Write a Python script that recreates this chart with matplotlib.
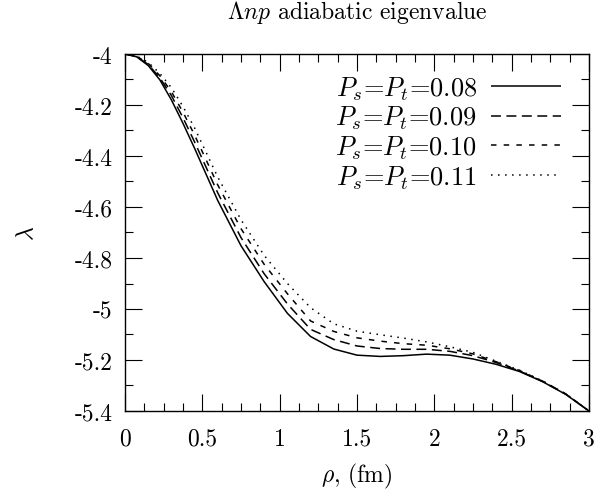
import matplotlib
matplotlib.use("Agg")
import matplotlib.pyplot as plt
from matplotlib.ticker import FixedLocator, FixedFormatter, MultipleLocator

plt.rcParams['font.family'] = ['cmr10', 'DejaVu Serif']
plt.rcParams['mathtext.fontset'] = 'cm'
plt.rcParams['axes.unicode_minus'] = False

rho = [0.0, 0.075, 0.15, 0.225, 0.3, 0.375, 0.45, 0.6, 0.75, 0.9, 1.05, 1.2, 1.35, 1.5,
       1.65, 1.8, 1.95, 2.1, 2.25, 2.4, 2.55, 2.7, 2.85, 3.0]

lam_008 = [-4.000, -4.011, -4.045, -4.101, -4.180, -4.272, -4.370, -4.575, -4.752, -4.893, -5.017,
           -5.108, -5.157, -5.181, -5.186, -5.183, -5.177, -5.181, -5.196, -5.217, -5.245, -5.285,
           -5.335, -5.400]
lam_009 = [-4.000, -4.010, -4.041, -4.093, -4.163, -4.250, -4.345, -4.545, -4.720, -4.862, -4.980,
           -5.080, -5.120, -5.145, -5.155, -5.158, -5.158, -5.166, -5.183, -5.210, -5.243, -5.284,
           -5.334, -5.400]
lam_010 = [-4.000, -4.009, -4.037, -4.085, -4.148, -4.228, -4.318, -4.514, -4.685, -4.825, -4.940,
           -5.047, -5.088, -5.113, -5.126, -5.136, -5.142, -5.156, -5.176, -5.207, -5.241, -5.283,
           -5.333, -5.400]
lam_011 = [-4.000, -4.008, -4.033, -4.076, -4.132, -4.206, -4.290, -4.483, -4.650, -4.790, -4.900,
           -4.995, -5.058, -5.087, -5.101, -5.114, -5.129, -5.148, -5.170, -5.205, -5.240, -5.282,
           -5.333, -5.400]

labels = [r'$P_s$=$P_t$=0.08', r'$P_s$=$P_t$=0.09', r'$P_s$=$P_t$=0.10', r'$P_s$=$P_t$=0.11']

xticks = [0, 0.5, 1, 1.5, 2, 2.5, 3]
xticklabels = ['0', '0.5', '1', '1.5', '2', '2.5', '3']
yticks = [-4.0, -4.2, -4.4, -4.6, -4.8, -5.0, -5.2, -5.4]
yticklabels = ['-4', '-4.2', '-4.4', '-4.6', '-4.8', '-5', '-5.2', '-5.4']

fs = 17
fig = plt.figure(figsize=(5.97, 5.02), dpi=100)
ax = fig.add_axes([125/597, 1 - 412/502, (589 - 125)/597, (412 - 55)/502])

series = [lam_008, lam_009, lam_010, lam_011]
styles = [(0, ()), (0, (6.5, 3.6)), (0, (3.6, 4.7)), (0, (1.0, 3.6))]
for ys, st, lb in zip(series, styles, labels):
    ax.plot(rho, ys, color='black', lw=1.1, linestyle=st, label=lb)

ax.set_xlim(0, 3)
ax.set_ylim(-5.4, -4.0)
ax.xaxis.set_major_locator(FixedLocator(xticks))
ax.xaxis.set_major_formatter(FixedFormatter(xticklabels))
ax.yaxis.set_major_locator(FixedLocator(yticks))
ax.yaxis.set_major_formatter(FixedFormatter(yticklabels))
ax.xaxis.set_minor_locator(MultipleLocator(0.125))
ax.yaxis.set_minor_locator(MultipleLocator(0.1))
ax.tick_params(which='both', direction='in', top=True, right=True, width=0.8, colors='black')
ax.tick_params(which='major', length=12, labelsize=fs)
ax.tick_params(which='minor', length=5.8)
ax.tick_params(axis='y', which='major', pad=9)
ax.tick_params(axis='x', which='major', pad=12)
for s in ax.spines.values():
    s.set_linewidth(1.0)

ax.set_title(r'$\Lambda np$ adiabatic eigenvalue', fontsize=fs, pad=26)
ax.set_xlabel(r'$\rho$, (fm)', fontsize=fs, labelpad=8)
ax.set_ylabel(r'$\lambda$', fontsize=fs, labelpad=26)

leg = ax.legend(loc='upper right', frameon=False, fontsize=19, markerfirst=False,
                handlelength=2.65, handletextpad=0.55, labelspacing=0.08,
                borderaxespad=0.3, bbox_to_anchor=(0.98, 0.995))

fig.savefig('out.png', dpi=100)
